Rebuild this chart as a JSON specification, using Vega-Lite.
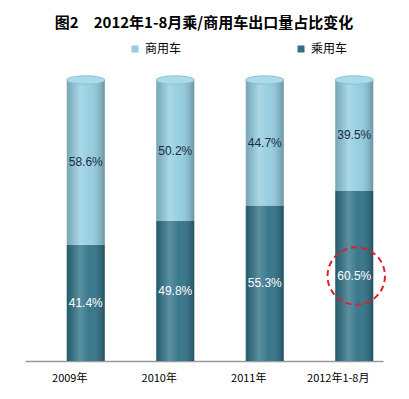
{
  "$schema": "https://vega.github.io/schema/vega-lite/v6.json",
  "width": 358,
  "height": 281,
  "autosize": {"type": "none"},
  "padding": {"left": 25, "top": 80, "right": 26, "bottom": 38},
  "background": "white",
  "title": {
    "text": "图2　2012年1-8月乘/商用车出口量占比变化",
    "font": "Noto Sans CJK SC",
    "fontSize": 15,
    "fontWeight": "bold",
    "color": "#000000",
    "anchor": "middle",
    "offset": 12
  },
  "data": {
    "values": [
      {"year": "2009年", "series": "乘用车", "value": 0.414},
      {"year": "2009年", "series": "商用车", "value": 0.586},
      {"year": "2010年", "series": "乘用车", "value": 0.498},
      {"year": "2010年", "series": "商用车", "value": 0.502},
      {"year": "2011年", "series": "乘用车", "value": 0.553},
      {"year": "2011年", "series": "商用车", "value": 0.447},
      {"year": "2012年1-8月", "series": "乘用车", "value": 0.605},
      {"year": "2012年1-8月", "series": "商用车", "value": 0.395}
    ]
  },
  "transform": [
    {"stack": "value", "groupby": ["year"], "as": ["y0", "y1"], "sort": [{"field": "series", "order": "ascending"}]},
    {"calculate": "(datum.y0 + datum.y1) / 2", "as": "ymid"}
  ],
  "encoding": {
    "x": {
      "field": "year",
      "type": "nominal",
      "sort": null,
      "scale": {"paddingInner": 0.5, "paddingOuter": 0.25},
      "axis": {
        "title": null,
        "labelAngle": 0,
        "labelFont": "Noto Sans CJK SC",
        "labelFontSize": 11,
        "labelColor": "#000000",
        "labelPadding": 11,
        "ticks": false,
        "domainColor": "#9a9a9a",
        "domainWidth": 1.5
      }
    }
  },
  "layer": [
    {
      "mark": {"type": "bar", "width": 38, "xOffset": 16},
      "encoding": {
        "y": {"field": "y0", "type": "quantitative", "scale": {"domain": [0, 1]}, "axis": null},
        "y2": {"field": "y1"},
        "color": {
          "field": "series",
          "type": "nominal",
          "scale": {"domain": ["商用车", "乘用车"], "range": ["#92cde0", "#2e7186"]},
          "legend": {
            "title": null,
            "orient": "none",
            "direction": "horizontal",
            "legendX": 104,
            "legendY": -37,
            "symbolType": "square",
            "symbolSize": 49,
            "symbolStrokeWidth": 0,
            "labelFont": "Noto Sans CJK SC",
            "labelFontSize": 12,
            "labelColor": "#000000",
            "labelOffset": 4,
            "columnPadding": 113
          }
        }
      }
    },
    {
      "mark": {
        "type": "bar",
        "width": 38,
        "xOffset": 16,
        "fill": {
          "gradient": "linear",
          "x1": 0, "x2": 1, "y1": 0, "y2": 0,
          "stops": [
            {"offset": 0, "color": "rgba(0,0,0,0.18)"},
            {"offset": 0.35, "color": "rgba(255,255,255,0.22)"},
            {"offset": 0.6, "color": "rgba(255,255,255,0.05)"},
            {"offset": 1, "color": "rgba(0,0,0,0.28)"}
          ]
        }
      },
      "encoding": {
        "y": {"field": "y0", "type": "quantitative"},
        "y2": {"field": "y1"}
      }
    },
    {
      "transform": [{"filter": "datum.series === '商用车'"}],
      "mark": {
        "type": "point",
        "shape": "M -1 0 A 1 0.22 0 1 1 1 0 A 1 0.22 0 1 1 -1 0 Z",
        "size": 1444,
        "filled": true,
        "fill": "#a9dbea",
        "stroke": "#7fb9cd",
        "strokeWidth": 0.8,
        "opacity": 1,
        "xOffset": 16
      },
      "encoding": {
        "y": {"field": "y1", "type": "quantitative"}
      }
    },
    {
      "mark": {"type": "text", "xOffset": 16, "font": "Liberation Sans", "fontSize": 12},
      "encoding": {
        "y": {"field": "ymid", "type": "quantitative"},
        "text": {"field": "value", "type": "quantitative", "format": ".1%"},
        "color": {"condition": {"test": "datum.series === '乘用车'", "value": "#ffffff"}, "value": "#1c2b48"}
      }
    },
    {
      "transform": [{"filter": "datum.year === '2012年1-8月' && datum.series === '乘用车'"}],
      "mark": {
        "type": "point",
        "shape": "circle",
        "size": 3300,
        "filled": false,
        "color": "#e0202a",
        "strokeWidth": 2,
        "strokeDash": [6, 4],
        "opacity": 1,
        "xOffset": 18
      },
      "encoding": {
        "y": {"field": "ymid", "type": "quantitative"}
      }
    }
  ],
  "config": {"view": {"stroke": null}}
}
